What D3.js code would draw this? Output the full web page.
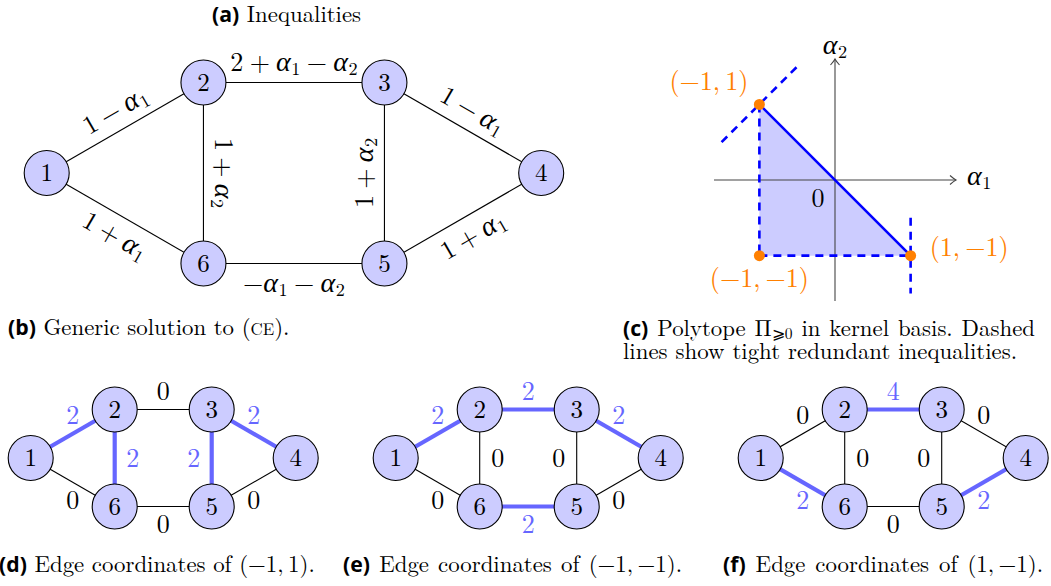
<!DOCTYPE html>
<html><head><meta charset="utf-8">
<script src="https://cdn.jsdelivr.net/npm/d3@7/dist/d3.min.js"></script>
<style>body{margin:0;background:#fff}svg{display:block}</style>
</head><body>
<svg id="fig" width="1051" height="586"></svg>
<script>
// ---------------- data ----------------
const NODE_IDS = [1, 2, 3, 4, 5, 6];
const NODE_LX = [0, 1.732, 3.732, 5.464, 3.732, 1.732];   // graph layout units
const NODE_LY = [0, 1, 1, 0, -1, -1];
const EDGE_FROM = [1, 2, 3, 2, 5, 1, 6, 5];
const EDGE_TO   = [2, 3, 4, 6, 3, 6, 5, 4];
const INEQ_LABELS = ["1 − α_1", "2 + α_1 − α_2", "1 − α_1", "1 + α_2", "1 + α_2", "1 + α_1", "−α_1 − α_2", "1 + α_1"];
const INEQ_SIDE = [1, 1, 1, 1, 1, -1, -1, -1];
const SMALL_SIDE = ["above", "above", "above", "right", "left", "below", "below", "below"];
const COORDS_D = [2, 0, 2, 2, 2, 0, 0, 0];
const COORDS_E = [2, 2, 2, 0, 0, 0, 2, 0];
const COORDS_F = [0, 4, 0, 0, 0, 2, 0, 2];
const VERT_A1 = [-1, -1, 1];
const VERT_A2 = [1, -1, -1];
const VERT_LABELS = ["(−1,\u20091)", "(−1,\u2009−1)", "(1,\u2009−1)"];
const TIGHT_A1 = [-1, 1];
const TIGHT_A2 = [1, -1];
const DASH_SEGS = [[[-1, 1], [-1, -1]], [[-1, -1], [1, -1]], [[1, -0.5], [1, -1.5]], [[-1.5, 0.5], [-0.5, 1.5]]];
const AXIS_RANGE = [-1.6, 1.6];

// ---------------- styles ----------------
const SERIF = '"Latin Modern Roman"';
const GREEK = '"Liberation Serif"';
const SANS = '"Open Sans"';
const NODE_FILL = "#ccccff", THICK = "#6666ff", BLUE = "#0000ff", ORANGE = "#ff8000";

const svg = d3.select("#fig");

function addMath(text, str, fs, opSp) {
  const toks = str.match(/α_\d|[+−]|[^\s]/g);
  let sub = false, prevBin = false;
  const sh = fs * 0.17;
  toks.forEach((tok, i) => {
    const isOp = tok === "+" || tok === "−";
    const bin = isOp && i > 0;
    let dx = 0;
    if (bin) dx += fs * opSp;
    if (prevBin) dx += fs * opSp;
    const t = text.append("tspan");
    if (tok.startsWith("α_")) t.style("font-family", GREEK).style("font-style", "italic").style("font-size", (fs * 1.08) + "px").text("α");
    else t.text(tok);
    if (dx) t.attr("dx", dx);
    if (sub) { t.attr("dy", -sh); sub = false; }
    if (tok.startsWith("α_")) {
      text.append("tspan").style("font-size", (fs * 0.7) + "px").attr("dx", 0.5).attr("dy", sh).text(tok.slice(2));
      sub = true;
    }
    prevBin = bin;
  });
}

function stext(g, fs) {
  return g.append("text").style("font-family", SERIF).style("font-size", fs + "px");
}

function drawNodes(g, xs, ys) {
  const nodes = g.selectAll("g.node").data(NODE_IDS).join("g").attr("class", "node")
    .attr("transform", (d, i) => `translate(${xs(NODE_LX[i])},${ys(NODE_LY[i])})`);
  nodes.append("circle").attr("r", 22.5).attr("fill", NODE_FILL).attr("stroke", "#000").attr("stroke-width", 1.1);
  nodes.append("text").style("font-family", SERIF).attr("text-anchor", "middle").attr("y", 8.2)
    .style("font-size", "25px").attr("fill", "#000").text(d => d);
}
const px = (xs, id) => xs(NODE_LX[NODE_IDS.indexOf(id)]);
const py = (ys, id) => ys(NODE_LY[NODE_IDS.indexOf(id)]);

// ---------------- (b) generic solution graph ----------------
{
  const xs = d3.scaleLinear().domain([0, 1]).range([46.7, 137.2]);
  const ys = d3.scaleLinear().domain([0, 1]).range([173, 82.5]);
  const g = svg.append("g");
  g.selectAll("line.e").data(EDGE_FROM).join("line").attr("class", "e")
    .attr("x1", (d) => px(xs, d)).attr("y1", (d) => py(ys, d))
    .attr("x2", (d, i) => px(xs, EDGE_TO[i])).attr("y2", (d, i) => py(ys, EDGE_TO[i]))
    .attr("stroke", "#000").attr("stroke-width", 1.1);
  EDGE_FROM.forEach((s, i) => {
    const x1 = px(xs, s), y1 = py(ys, s), x2 = px(xs, EDGE_TO[i]), y2 = py(ys, EDGE_TO[i]);
    const th = Math.atan2(y2 - y1, x2 - x1);
    const off = 20 * INEQ_SIDE[i];
    const cx = (x1 + x2) / 2 + Math.sin(th) * off, cy = (y1 + y2) / 2 - Math.cos(th) * off;
    const t = stext(g, 26).attr("text-anchor", "middle")
      .attr("y", 8.5).attr("transform", `translate(${cx},${cy}) rotate(${th * 180 / Math.PI})`);
    addMath(t, INEQ_LABELS[i], 26, 0.24);
  });
  drawNodes(g, xs, ys);
}

// ---------------- (d)(e)(f) edge coordinate graphs ----------------
[[COORDS_D, 0], [COORDS_E, 365], [COORDS_F, 730]].forEach(([vals, dxo]) => {
  const xs = d3.scaleLinear().domain([0, 1]).range([30.7 + dxo, 30.7 + dxo + 48.5]);
  const ys = d3.scaleLinear().domain([0, 1]).range([458, 409.5]);
  const g = svg.append("g");
  g.selectAll("line.e").data(EDGE_FROM).join("line").attr("class", "e")
    .attr("x1", (d) => px(xs, d)).attr("y1", (d) => py(ys, d))
    .attr("x2", (d, i) => px(xs, EDGE_TO[i])).attr("y2", (d, i) => py(ys, EDGE_TO[i]))
    .attr("stroke", (d, i) => vals[i] > 0 ? THICK : "#000")
    .attr("stroke-width", (d, i) => vals[i] > 0 ? 4.2 : 1.1);
  EDGE_FROM.forEach((s, i) => {
    const mx = (px(xs, s) + px(xs, EDGE_TO[i])) / 2, my = (py(ys, s) + py(ys, EDGE_TO[i])) / 2;
    const side = SMALL_SIDE[i], o = 18;
    const cx = mx + (side === "right" ? o : side === "left" ? -o : 0);
    const cy = my + (side === "above" ? -o : side === "below" ? o : 0);
    stext(g, 26).attr("x", cx).attr("y", cy + 8.5).attr("text-anchor", "middle")
      .attr("fill", vals[i] > 0 ? THICK : "#000").text(vals[i]);
  });
  drawNodes(g, xs, ys);
});

// ---------------- (c) polytope ----------------
{
  const sx = d3.scaleLinear().domain(AXIS_RANGE).range([714, 956]);
  const sy = d3.scaleLinear().domain(AXIS_RANGE).range([301, 59]);
  const g = svg.append("g");
  g.append("path").attr("d", d3.line()(VERT_A1.map((a, i) => [sx(a), sy(VERT_A2[i])])) + "Z")
    .attr("fill", NODE_FILL).attr("stroke", "none");
  const axc = "#444";
  g.append("line").attr("x1", sx(AXIS_RANGE[0])).attr("x2", sx(AXIS_RANGE[1])).attr("y1", sy(0)).attr("y2", sy(0))
    .attr("stroke", axc).attr("stroke-width", 1.1);
  g.append("line").attr("y1", sy(AXIS_RANGE[0])).attr("y2", sy(AXIS_RANGE[1])).attr("x1", sx(0)).attr("x2", sx(0))
    .attr("stroke", axc).attr("stroke-width", 1.1);
  const ax = sx(AXIS_RANGE[1]), ay = sy(AXIS_RANGE[1]);
  g.append("path").attr("d", `M${ax - 6},${sy(0) - 4.5} Q${ax - 2},${sy(0) - 1} ${ax},${sy(0)} Q${ax - 2},${sy(0) + 1} ${ax - 6},${sy(0) + 4.5}`)
    .attr("fill", "none").attr("stroke", axc).attr("stroke-width", 1.1);
  g.append("path").attr("d", `M${sx(0) - 4.5},${ay + 6} Q${sx(0) - 1},${ay + 2} ${sx(0)},${ay} Q${sx(0) + 1},${ay + 2} ${sx(0) + 4.5},${ay + 6}`)
    .attr("fill", "none").attr("stroke", axc).attr("stroke-width", 1.1);
  DASH_SEGS.forEach(seg => {
    g.append("line").attr("x1", sx(seg[0][0])).attr("y1", sy(seg[0][1])).attr("x2", sx(seg[1][0])).attr("y2", sy(seg[1][1]))
      .attr("stroke", BLUE).attr("stroke-width", 2.6).attr("stroke-dasharray", "8,6");
  });
  g.append("line").attr("x1", sx(TIGHT_A1[0])).attr("y1", sy(TIGHT_A2[0])).attr("x2", sx(TIGHT_A1[1])).attr("y2", sy(TIGHT_A2[1]))
    .attr("stroke", BLUE).attr("stroke-width", 2.6);
  g.selectAll("circle.v").data(VERT_A1).join("circle").attr("class", "v")
    .attr("cx", d => sx(d)).attr("cy", (d, i) => sy(VERT_A2[i])).attr("r", 5.5).attr("fill", ORANGE);
  const lp = [
    { x: sx(VERT_A1[0]) - 11, y: sy(VERT_A2[0]) - 14.5, a: "end" },
    { x: sx(VERT_A1[1]), y: sy(VERT_A2[1]) + 31, a: "middle" },
    { x: sx(VERT_A1[2]) + 19, y: sy(VERT_A2[2]), a: "start" }];
  VERT_LABELS.forEach((l, i) => {
    stext(g, 26).attr("x", lp[i].x).attr("y", lp[i].y).attr("text-anchor", lp[i].a)
      .attr("fill", ORANGE).text(l);
  });
  const t1 = stext(g, 26).attr("x", sx(AXIS_RANGE[1]) + 11).attr("y", sy(0) + 5);
  addMath(t1, "α_1", 26, 0);
  const t2 = stext(g, 26).attr("x", sx(0)).attr("y", sy(AXIS_RANGE[1]) - 5).attr("text-anchor", "middle");
  addMath(t2, "α_2", 26, 0);
  stext(g, 26).attr("x", sx(0) - 17).attr("y", sy(0) + 27).attr("text-anchor", "middle").text("0");
}

// ---------------- captions ----------------
function buildCaption(parts, x, y, fs) {
  const t = stext(svg, fs).attr("x", x).attr("y", y).attr("fill", "#000");
  parts.forEach(p => {
    if (p.b) t.append("tspan").style("font-family", SANS).style("font-weight", 700).style("font-size", (fs * 0.93) + "px").text(p.b);
    else if (p.sc) t.append("tspan").style("font-size", (fs * 0.74) + "px").text(p.sc);
    else if (p.sub) { t.append("tspan").style("font-size", (fs * 0.68) + "px").attr("dy", 3).text(p.sub); t.append("tspan").attr("dy", -3).text(p.after); }
    else t.append("tspan").text(p.t);
  });
  return t;
}
function fit(t, width) {
  const nat = t.node().getComputedTextLength();
  const spaces = (t.text().match(/ /g) || []).length;
  const diff = width - nat;
  if (Math.abs(diff) > 1 && spaces > 0) t.attr("word-spacing", diff / spaces);
}
const CAPS = [
  { parts: [{ b: "(d)" }, { t: " Edge coordinates of (−1,\u20091)." }], x: -1, y: 572, w: 316 },
  { parts: [{ b: "(e)" }, { t: " Edge coordinates of (−1,\u2009−1)." }], x: 343, y: 572, w: 339 },
  { parts: [{ b: "(f)" }, { t: " Edge coordinates of (1,\u2009−1)." }], x: 723, y: 572, w: 320 },
  { parts: [{ b: "(c)" }, { t: " Polytope Π" }, { sub: "⩾0", after: " in kernel basis. Dashed" }], x: 623, y: 336, w: 412 },
  { parts: [{ t: "lines show tight redundant inequalities." }], x: 623, y: 359, w: 394 },
  { parts: [{ b: "(b)" }, { t: " Generic solution to (" }, { sc: "CE" }, { t: ")." }], x: 8, y: 335, w: null },
  { parts: [{ b: "(a)" }, { t: " Inequalities" }], x: 212, y: 22, w: null }];
// derive caption font size from the (d) caption width
const probe = buildCaption(CAPS[0].parts, 0, -100, 20);
const CAP_FS = Math.max(19, Math.min(23, 20 * CAPS[0].w / probe.node().getComputedTextLength()));
probe.remove();
CAPS.forEach(c => {
  const t = buildCaption(c.parts, c.x, c.y, CAP_FS);
  if (c.w) fit(t, c.w);
});
</script>
</body></html>
